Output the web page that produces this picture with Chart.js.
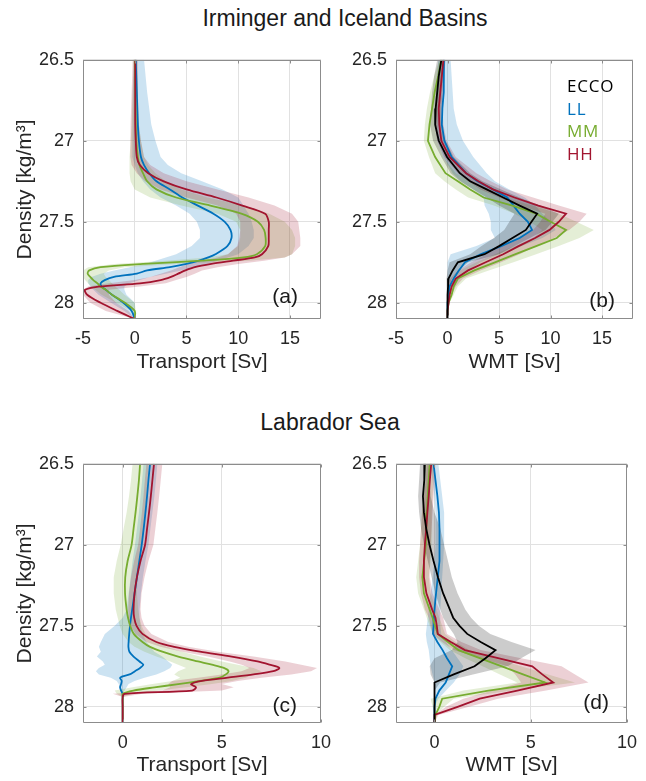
<!DOCTYPE html>
<html>
<head>
<meta charset="utf-8">
<script src="https://cdn.jsdelivr.net/npm/chart.js@4/dist/chart.umd.min.js"></script>
<style>
html,body{margin:0;padding:0;background:#fff;overflow:hidden;width:646px;height:781px;}
#wrap{position:relative;width:646px;height:781px;}
canvas{position:absolute;}
.sup{position:absolute;font-family:'Liberation Sans',Arial,Helvetica,sans-serif;font-size:23px;line-height:23px;color:#1a1a1a;white-space:nowrap;transform:translateX(-50%);}
.leg{position:absolute;left:567px;font-family:'Open Sans',sans-serif;font-size:17px;line-height:17px;letter-spacing:0.8px;white-space:nowrap;}
</style>
</head>
<body>
<div id="wrap">
<div class="sup" style="left:345px;top:7px">Irminger and Iceland Basins</div>
<div class="sup" style="left:330px;top:411px">Labrador Sea</div>
<canvas id="ca" width="340" height="360" style="left:0px;top:40px;width:340px;height:360px"></canvas>
<canvas id="cb" width="316" height="360" style="left:330px;top:40px;width:316px;height:360px"></canvas>
<canvas id="cc" width="340" height="337" style="left:0px;top:444px;width:340px;height:337px"></canvas>
<canvas id="cd" width="316" height="337" style="left:330px;top:444px;width:316px;height:337px"></canvas>
<div class="leg" style="top:77px;color:#000000">ECCO</div>
<div class="leg" style="top:100px;color:#0072BD">LL</div>
<div class="leg" style="top:122px;color:#77AC30">MM</div>
<div class="leg" style="top:145px;color:#A2142F">HH</div>
</div>
<script>
// ---------- tick labels ----------
const yTicks = [26.5, 27, 27.5, 28];
const xTicksTop = [-5, 0, 5, 10, 15];
const xTicksBottom = [0, 5, 10];
const seriesNames = ['ECCO', 'LL', 'MM', 'HH'];

// ---------- panel (a): Irminger/Iceland transport ----------
const densA = [26.5, 26.7, 26.9, 27.0, 27.1, 27.15, 27.2, 27.25, 27.3, 27.35, 27.4, 27.45, 27.5, 27.55, 27.6, 27.65, 27.7, 27.72, 27.74, 27.76, 27.78, 27.8, 27.82, 27.84, 27.86, 27.88, 27.9, 27.92, 27.95, 28.0, 28.05, 28.1];
const aLL   = [0.1, 0.2, 0.3, 0.4, 0.6, 0.9, 1.4, 2.1, 3.4, 4.6, 6.1, 7.6, 8.7, 9.25, 9.35, 8.95, 7.8, 7.1, 6.2, 5.0, 3.4, 1.2, 0.2, -2.0, -2.9, -3.3, -3.2, -2.8, -2.2, -1.1, -0.3, 0];
const aLLlo = [-0.1, -0.2, -0.25, -0.25, -0.2, 0, 0.3, 0.8, 1.5, 2.5, 4.0, 5.3, 6.0, 6.3, 6.3, 5.5, 4.0, 3.0, 2.0, 1.0, -0.5, -2.0, -3.3, -4.2, -4.5, -4.5, -4.3, -4.0, -3.5, -2.3, -1.0, 0];
const aLLhi = [0.9, 1.2, 1.6, 2.0, 2.5, 3.2, 4.5, 6.5, 8.5, 10.0, 10.5, 11.0, 11.3, 11.5, 11.5, 11.0, 10.0, 9.0, 8.0, 7.0, 6.0, 4.5, 3.0, 1.5, 0.5, -0.5, -1.0, -1.0, -0.8, 0, 0, 0];
const aMM   = [0, 0.05, 0.1, 0.15, 0.3, 0.45, 0.8, 1.2, 2.1, 4.0, 7.3, 10.3, 11.9, 12.5, 12.65, 12.6, 11.8, 10.5, 6.5, 0.8, -3.3, -4.4, -4.55, -4.3, -4.0, -3.6, -3.3, -2.8, -2.2, -0.95, 0, 0];
const aMMlo = [-0.1, -0.2, -0.3, -0.4, -0.5, -0.5, -0.5, -0.4, 0, 1.5, 4.5, 8.0, 9.8, 10.2, 10.2, 10.0, 9.0, 7.0, 3.0, -2.0, -4.5, -5, -5, -5, -4.8, -4.5, -4.2, -3.8, -3.2, -1.8, -0.3, 0];
const aMMhi = [0.2, 0.3, 0.4, 0.6, 0.9, 1.3, 2.0, 3.0, 4.5, 7.0, 10.5, 13.0, 14.5, 15.2, 15.5, 15.5, 15.2, 14.5, 11.0, 4.0, -1.0, -2.5, -3.0, -2.8, -2.5, -2.2, -1.9, -1.5, -1.0, 0, 0.1, 0];
const aHH   = [0.05, 0.05, 0.05, 0.1, 0.2, 0.5, 1.3, 2.8, 5.0, 7.9, 10.4, 12.6, 12.95, 12.95, 12.95, 12.9, 12.3, 11.6, 9.5, 7.4, 5.8, 4.9, 4.2, 3.5, 2.5, 0.5, -3.5, -4.8, -4.6, -3.3, -1.7, 0];
const aHHlo = [-0.2, -0.3, -0.4, -0.45, -0.4, -0.3, 0.2, 1.0, 2.5, 5.0, 8.0, 9.8, 10.2, 10.2, 10.1, 9.9, 9.0, 8.0, 6.5, 5.2, 4.3, 3.5, 2.5, 1.5, 0, -2.5, -4.5, -5, -5, -4.3, -2.8, 0];
const aHHhi = [0.3, 0.3, 0.4, 0.6, 0.9, 1.5, 2.8, 5.0, 8.0, 11.0, 13.5, 15.2, 15.8, 15.9, 16.0, 16.0, 15.2, 14.5, 12.5, 10.0, 8.0, 6.5, 5.8, 5.0, 4.0, 3.0, 0.5, -2.5, -2.5, -1.8, -0.6, 0];

// ---------- panel (b): Irminger/Iceland WMT ----------
const densB = [26.5, 26.6, 26.7, 26.8, 26.9, 27.0, 27.1, 27.2, 27.25, 27.3, 27.35, 27.4, 27.45, 27.5, 27.55, 27.6, 27.65, 27.7, 27.75, 27.8, 27.85, 27.9, 27.95, 28.0, 28.05, 28.1];
const bECCO   = [-0.6, -0.85, -1.0, -1.15, -1.2, -0.85, -0.05, 1.2, 2.2, 3.8, 5.4, 7.0, 8.7, 8.15, 7.6, 6.3, 5.0, 3.6, 1.0, 0.5, 0.1, 0.05, 0, 0, 0, 0];
const bECCOlo = [-1.0, -1.3, -1.5, -1.6, -1.7, -1.4, -0.6, 0.3, 1.2, 2.5, 3.8, 5.0, 6.5, 6.0, 5.5, 4.5, 3.3, 2.2, 0.2, 0, -0.1, -0.1, -0.05, 0, 0, 0];
const bECCOhi = [-0.2, -0.4, -0.5, -0.6, -0.6, -0.2, 0.6, 2.2, 3.4, 5.2, 7.0, 9.0, 10.8, 10.2, 9.5, 8.0, 6.5, 5.0, 2.0, 1.1, 0.4, 0.2, 0.1, 0, 0, 0];
const bLL   = [-0.35, -0.35, -0.38, -0.5, -0.55, -0.3, 0.4, 1.8, 2.9, 4.4, 5.8, 6.4, 7.0, 7.8, 8.2, 7.0, 5.2, 3.2, 1.7, 1.1, 0.6, 0.2, 0.1, 0, 0, 0];
const bLLlo = [-0.9, -1.0, -1.1, -1.2, -1.2, -1.0, -0.4, 0.5, 1.3, 2.5, 3.5, 3.6, 4.0, 4.2, 4.2, 4.6, 2.8, 0.3, 0, 0, 0, 0, 0, 0, 0, 0];
const bLLhi = [0.3, 0.4, 0.5, 0.6, 0.9, 1.5, 2.5, 3.8, 4.6, 6.0, 7.5, 8.5, 9.2, 10.0, 10.5, 9.2, 7.2, 5.0, 3.2, 2.0, 1.2, 0.5, 0.2, 0, 0, 0];
const bMM   = [-0.6, -0.9, -1.25, -1.5, -1.75, -1.9, -1.2, -0.2, 1.0, 2.2, 3.5, 6.3, 8.6, 10.0, 11.5, 10.6, 8.6, 6.6, 4.6, 2.6, 1.0, 0.6, 0.4, 0.1, 0, 0];
const bMMlo = [-0.8, -1.3, -1.7, -2.0, -2.2, -2.3, -1.8, -1.2, -0.3, 0.8, 2.0, 4.5, 6.5, 8.0, 9.2, 8.3, 6.5, 4.6, 2.8, 1.2, 0.3, 0.2, 0.1, 0, 0, 0];
const bMMhi = [-0.3, -0.5, -0.7, -0.9, -1.0, -1.0, -0.4, 0.8, 2.2, 3.8, 5.5, 8.2, 10.8, 12.5, 14.2, 12.8, 10.8, 8.6, 6.4, 4.0, 1.8, 1.0, 0.6, 0.2, 0, 0];
const bHH   = [-0.4, -0.55, -0.7, -0.85, -0.8, -0.6, 0.2, 1.8, 3.0, 4.4, 6.5, 8.8, 11.5, 10.8, 9.9, 8.5, 6.9, 5.4, 3.7, 2.0, 0.8, 0.4, 0.2, 0.1, 0, 0];
const bHHlo = [-0.6, -0.8, -1.0, -1.2, -1.2, -1.0, -0.3, 1.0, 2.0, 3.2, 5.0, 7.0, 9.5, 9.0, 8.3, 6.8, 5.2, 3.8, 2.3, 1.0, 0.3, 0.1, 0, 0, 0, 0];
const bHHhi = [-0.2, -0.3, -0.4, -0.5, -0.4, -0.1, 0.8, 2.8, 4.2, 5.8, 8.3, 10.8, 13.5, 12.8, 11.8, 10.3, 8.6, 7.0, 5.2, 3.2, 1.5, 0.8, 0.4, 0.2, 0, 0];

// ---------- panel (c): Labrador Sea transport ----------
const densC = [26.5, 26.6, 26.7, 26.8, 26.9, 27.0, 27.1, 27.2, 27.3, 27.4, 27.45, 27.5, 27.55, 27.6, 27.63, 27.66, 27.69, 27.72, 27.74, 27.76, 27.78, 27.8, 27.82, 27.84, 27.86, 27.88, 27.9, 27.92, 27.94, 28.0, 28.1];
const cLL   = [1.38, 1.3, 1.23, 1.15, 1.06, 0.96, 0.84, 0.72, 0.6, 0.48, 0.42, 0.37, 0.33, 0.3, 0.29, 0.34, 0.55, 0.85, 1.04, 0.88, 0.62, 0.35, -0.13, -0.05, -0.08, -0.13, -0.08, 0, 0, 0, 0];
const cLLlo = [1.05, 0.98, 0.9, 0.82, 0.72, 0.62, 0.5, 0.4, 0.3, 0.2, 0, -0.4, -0.9, -1.1, -1.2, -1.1, -1.3, -1.0, -0.9, -1.2, -1.35, -1.2, -0.6, -0.3, -0.2, -0.15, -0.1, 0, 0, 0, 0];
const cLLhi = [1.75, 1.68, 1.6, 1.5, 1.4, 1.3, 1.15, 1.02, 0.92, 0.85, 0.85, 0.9, 1.0, 1.2, 1.4, 1.6, 2.0, 2.3, 2.5, 2.4, 2.1, 1.7, 1.1, 0.6, 0.3, 0.2, 0.1, 0, 0, 0, 0];
const cMM   = [0.88, 0.82, 0.74, 0.65, 0.55, 0.45, 0.25, 0.13, 0.12, 0.2, 0.27, 0.38, 0.56, 1.0, 1.38, 2.0, 2.8, 3.8, 4.5, 5.1, 5.34, 5.2, 4.9, 3.9, 2.8, 1.6, 0.54, 0, 0, 0, 0];
const cMMlo = [0.5, 0.42, 0.32, 0.2, 0.05, -0.1, -0.3, -0.45, -0.45, -0.35, -0.25, -0.15, 0, 0.3, 0.6, 1.1, 1.7, 2.4, 2.8, 3.2, 2.8, 2.6, 2.9, 2.5, 1.5, 0.5, -0.4, -0.3, 0, 0, 0];
const cMMhi = [1.3, 1.25, 1.2, 1.12, 1.05, 0.98, 0.85, 0.75, 0.72, 0.78, 0.85, 0.95, 1.15, 1.7, 2.2, 3.0, 3.9, 5.0, 5.8, 6.6, 7.0, 6.6, 6.2, 5.5, 4.5, 3.2, 1.8, 0.5, 0, 0, 0];
const cHH   = [1.58, 1.5, 1.42, 1.33, 1.23, 1.13, 0.9, 0.72, 0.6, 0.55, 0.58, 0.7, 1.0, 1.7, 2.6, 3.9, 5.5, 6.8, 7.4, 7.9, 7.6, 6.6, 5.3, 4.0, 3.45, 3.7, 3.5, 0.1, 0, 0, 0];
const cHHlo = [1.2, 1.12, 1.05, 0.97, 0.88, 0.78, 0.58, 0.42, 0.32, 0.28, 0.3, 0.4, 0.65, 1.2, 1.9, 3.0, 4.3, 5.4, 6.0, 6.4, 6.0, 5.0, 3.8, 2.5, 2.3, 2.4, 2.0, -0.5, 0, 0, 0];
const cHHhi = [2.0, 1.92, 1.84, 1.75, 1.65, 1.55, 1.3, 1.1, 0.95, 0.9, 0.95, 1.1, 1.45, 2.3, 3.3, 4.8, 6.6, 8.2, 9.0, 9.8, 9.5, 8.5, 7.0, 5.8, 5.0, 5.6, 5.0, 1.0, 0, 0, 0];

// ---------- panel (d): Labrador Sea WMT ----------
const densD = [26.5, 26.6, 26.7, 26.8, 26.9, 27.0, 27.1, 27.2, 27.3, 27.4, 27.45, 27.5, 27.55, 27.6, 27.65, 27.7, 27.75, 27.8, 27.85, 27.9, 27.95, 28.0, 28.05, 28.1];
const dECCO   = [-0.5, -0.53, -0.6, -0.55, -0.43, -0.26, -0.05, 0.18, 0.45, 0.8, 0.97, 1.3, 1.7, 2.4, 3.17, 2.65, 2.08, 1.0, 0, 0, 0, 0, 0, 0];
const dECCOlo = [-0.75, -0.8, -0.85, -0.8, -0.7, -0.55, -0.35, -0.15, 0.05, 0.3, 0.45, 0.7, 1.0, 1.2, 0.9, 0.0, -0.25, -0.2, 0, 0, 0, 0, 0, 0];
const dECCOhi = [-0.3, -0.25, -0.2, 0, 0.3, 0.5, 0.7, 0.9, 1.2, 1.6, 1.9, 2.3, 2.9, 4.0, 5.25, 4.5, 3.8, 2.0, 0.3, 0, 0, 0, 0, 0];
const dLL   = [-0.05, 0.05, 0.15, 0.23, 0.26, 0.28, 0.24, 0.17, 0.08, 0, -0.03, -0.05, -0.08, 0.15, 0.42, 0.65, 0.92, 0.75, 0.58, 0.25, 0.05, 0, 0, 0];
const dLLlo = [-0.2, -0.1, 0, 0.05, 0.05, 0.05, 0, -0.1, -0.2, -0.3, -0.35, -0.4, -0.45, -0.4, -0.3, -0.25, -0.2, -0.1, 0, 0, 0, 0, 0, 0];
const dLLhi = [0.2, 0.3, 0.4, 0.5, 0.5, 0.5, 0.45, 0.4, 0.35, 0.3, 0.3, 0.3, 0.35, 0.6, 0.9, 1.2, 1.5, 1.3, 1.0, 0.6, 0.2, 0, 0, 0];
const dMM   = [-0.25, -0.3, -0.35, -0.4, -0.43, -0.45, -0.54, -0.63, -0.55, -0.25, -0.1, 0.03, 0.17, 0.7, 1.25, 2.35, 3.5, 4.6, 5.75, 2.8, 0.4, 0.25, 0.05, 0];
const dMMlo = [-0.5, -0.55, -0.6, -0.65, -0.7, -0.75, -0.85, -0.95, -0.85, -0.55, -0.4, -0.25, -0.1, 0.3, 0.8, 1.6, 2.5, 3.4, 4.3, 1.5, -0.2, -0.1, 0, 0];
const dMMhi = [0, -0.05, -0.1, -0.15, -0.15, -0.15, -0.2, -0.3, -0.2, 0.1, 0.25, 0.4, 0.55, 1.1, 1.8, 3.1, 4.5, 5.9, 7.3, 4.0, 1.0, 0.5, 0.1, 0];
const dHH   = [-0.17, -0.24, -0.3, -0.37, -0.43, -0.5, -0.55, -0.55, -0.42, -0.12, 0.05, 0.12, 0.17, 0.85, 1.58, 3.3, 5.08, 5.6, 6.17, 4.3, 2.35, 1.2, 0, 0];
const dHHlo = [-0.4, -0.45, -0.55, -0.65, -0.7, -0.75, -0.8, -0.8, -0.7, -0.5, -0.3, -0.2, -0.1, 0.4, 1.0, 2.4, 3.8, 4.2, 4.5, 3.0, 1.5, 0.6, 0, 0];
const dHHhi = [0.05, 0, -0.05, -0.1, -0.15, -0.2, -0.25, -0.25, -0.1, 0.25, 0.45, 0.55, 0.65, 1.4, 2.4, 4.5, 6.6, 7.3, 8.0, 5.8, 3.3, 1.8, 0.2, 0];

// ---------- styling ----------
const COLORS = { ECCO: '#000000', LL: '#0072BD', MM: '#77AC30', HH: '#A2142F' };
const BANDS = { ECCO: 'rgba(0,0,0,0.2)', LL: 'rgba(0,114,189,0.2)', MM: 'rgba(119,172,48,0.2)', HH: 'rgba(162,20,47,0.2)' };
const FONT = "'Liberation Sans', Arial, Helvetica, sans-serif";
Chart.defaults.font.family = FONT;
Chart.defaults.color = '#262626';

function linePts(dens, vals) { return dens.map((d, i) => ({ x: vals[i], y: d })); }
function bandPts(dens, lo, hi) {
  const pts = dens.map((d, i) => ({ x: lo[i], y: d }));
  for (let i = dens.length - 1; i >= 0; i--) pts.push({ x: hi[i], y: dens[i] });
  return pts;
}

const boxPlugin = {
  id: 'box',
  afterDatasetsDraw(chart, args, opts) {
    const { ctx, chartArea: a, scales } = chart;
    const xs = scales.x, ys = scales.y;
    ctx.save();
    ctx.strokeStyle = '#8c8c8c';
    ctx.lineWidth = 1;
    const L = Math.round(a.left) + 0.5, R = Math.round(a.right) - 0.5;
    const T = Math.round(a.top) + 0.5, B = Math.round(a.bottom) - 0.5;
    ctx.beginPath();
    ctx.rect(L, T, R - L, B - T);
    xs.ticks.forEach(t => {
      const p = Math.round(xs.getPixelForValue(t.value)) + 0.5;
      ctx.moveTo(p, B); ctx.lineTo(p, B - 3);
      ctx.moveTo(p, T); ctx.lineTo(p, T + 3);
    });
    ys.ticks.forEach(t => {
      const p = Math.round(ys.getPixelForValue(t.value)) + 0.5;
      ctx.moveTo(L, p); ctx.lineTo(L + 3, p);
      ctx.moveTo(R, p); ctx.lineTo(R - 3, p);
    });
    ctx.stroke();
    ctx.fillStyle = '#1a1a1a';
    ctx.font = '21px ' + FONT;
    ctx.textAlign = 'right';
    ctx.textBaseline = 'middle';
    ctx.fillText(opts.label, a.right - opts.dx, a.bottom - opts.dy);
    ctx.restore();
  }
};

function makePanel(id, p) {
  const datasets = [];
  p.series.forEach((s, k) => {
    datasets.push({
      label: s.name + ' range', data: bandPts(p.dens, s.lo, s.hi), showLine: true, fill: 'shape',
      backgroundColor: BANDS[s.name], borderColor: 'rgba(0,0,0,0)', borderWidth: 0,
      pointRadius: 0, tension: 0, order: 40 - k, clip: 0
    });
  });
  p.series.forEach((s, k) => {
    datasets.push({
      label: s.name, data: linePts(p.dens, s.mean), showLine: true, fill: false,
      borderColor: COLORS[s.name], borderWidth: 1.8, pointRadius: 0,
      tension: p.tension, order: 20 - k, clip: 0
    });
  });
  new Chart(document.getElementById(id), {
    type: 'scatter',
    data: { datasets },
    plugins: [boxPlugin],
    options: {
      responsive: false, animation: false, events: [],
      layout: { padding: p.padding },
      plugins: { legend: { display: false }, tooltip: { enabled: false },
        box: { label: p.label, dx: p.dx, dy: p.dy } },
      scales: {
        x: {
          type: 'linear', min: p.xmin, max: p.xmax,
          afterBuildTicks: sc => { sc.ticks = p.xticks.map(v => ({ value: v })); },
          afterFit: sc => { sc.height = p.xh; },
          ticks: { padding: 9, font: { size: 18 }, maxRotation: 0, autoSkip: false, callback: v => String(v) },
          grid: { color: '#e1e1e1', lineWidth: 1, drawTicks: false },
          border: { display: false },
          title: { display: true, text: p.xtitle, font: { size: 21 }, color: '#262626', padding: { top: 0, bottom: p.xtpad } }
        },
        y: {
          type: 'linear', min: 26.5, max: 28.1, reverse: true,
          afterBuildTicks: sc => { sc.ticks = yTicks.map(v => ({ value: v })); },
          afterFit: sc => { sc.width = p.yw; },
          ticks: { padding: 9, font: { size: 18 }, autoSkip: false, callback: v => String(v) },
          grid: { color: '#e1e1e1', lineWidth: 1, drawTicks: false },
          border: { display: false },
          title: { display: p.ytitle, text: 'Density [kg/m³]', font: { size: 21 }, color: '#262626', padding: { top: 13, bottom: 0 } }
        }
      }
    }
  });
}

makePanel('ca', {
  dens: densA, tension: 0.3, label: '(a)', dx: 23, dy: 22,
  padding: { top: 19, right: 19, left: 0, bottom: 0 }, yw: 83, xh: 81,
  xmin: -5, xmax: 18, xticks: xTicksTop, xtitle: 'Transport [Sv]', xtpad: 25, ytitle: true,
  series: [
    { name: seriesNames[1], mean: aLL, lo: aLLlo, hi: aLLhi },
    { name: seriesNames[2], mean: aMM, lo: aMMlo, hi: aMMhi },
    { name: seriesNames[3], mean: aHH, lo: aHHlo, hi: aHHhi }
  ]
});
makePanel('cb', {
  dens: densB, tension: 0, label: '(b)', dx: 18, dy: 18,
  padding: { top: 19, right: 13, left: 0, bottom: 0 }, yw: 66, xh: 81,
  xmin: -5, xmax: 18, xticks: xTicksTop, xtitle: 'WMT [Sv]', xtpad: 25, ytitle: false,
  series: [
    { name: seriesNames[1], mean: bLL, lo: bLLlo, hi: bLLhi },
    { name: seriesNames[2], mean: bMM, lo: bMMlo, hi: bMMhi },
    { name: seriesNames[3], mean: bHH, lo: bHHlo, hi: bHHhi },
    { name: seriesNames[0], mean: bECCO, lo: bECCOlo, hi: bECCOhi }
  ]
});
makePanel('cc', {
  dens: densC, tension: 0.3, label: '(c)', dx: 24, dy: 17,
  padding: { top: 19, right: 19, left: 0, bottom: 0 }, yw: 83, xh: 58,
  xmin: -2, xmax: 10, xticks: xTicksBottom, xtitle: 'Transport [Sv]', xtpad: 3, ytitle: true,
  series: [
    { name: seriesNames[1], mean: cLL, lo: cLLlo, hi: cLLhi },
    { name: seriesNames[2], mean: cMM, lo: cMMlo, hi: cMMhi },
    { name: seriesNames[3], mean: cHH, lo: cHHlo, hi: cHHhi }
  ]
});
makePanel('cd', {
  dens: densD, tension: 0, label: '(d)', dx: 18, dy: 20,
  padding: { top: 19, right: 13, left: 0, bottom: 0 }, yw: 66, xh: 58,
  xmin: -2, xmax: 10, xticks: xTicksBottom, xtitle: 'WMT [Sv]', xtpad: 3, ytitle: false,
  series: [
    { name: seriesNames[1], mean: dLL, lo: dLLlo, hi: dLLhi },
    { name: seriesNames[2], mean: dMM, lo: dMMlo, hi: dMMhi },
    { name: seriesNames[3], mean: dHH, lo: dHHlo, hi: dHHhi },
    { name: seriesNames[0], mean: dECCO, lo: dECCOlo, hi: dECCOhi }
  ]
});
</script>
</body>
</html>
